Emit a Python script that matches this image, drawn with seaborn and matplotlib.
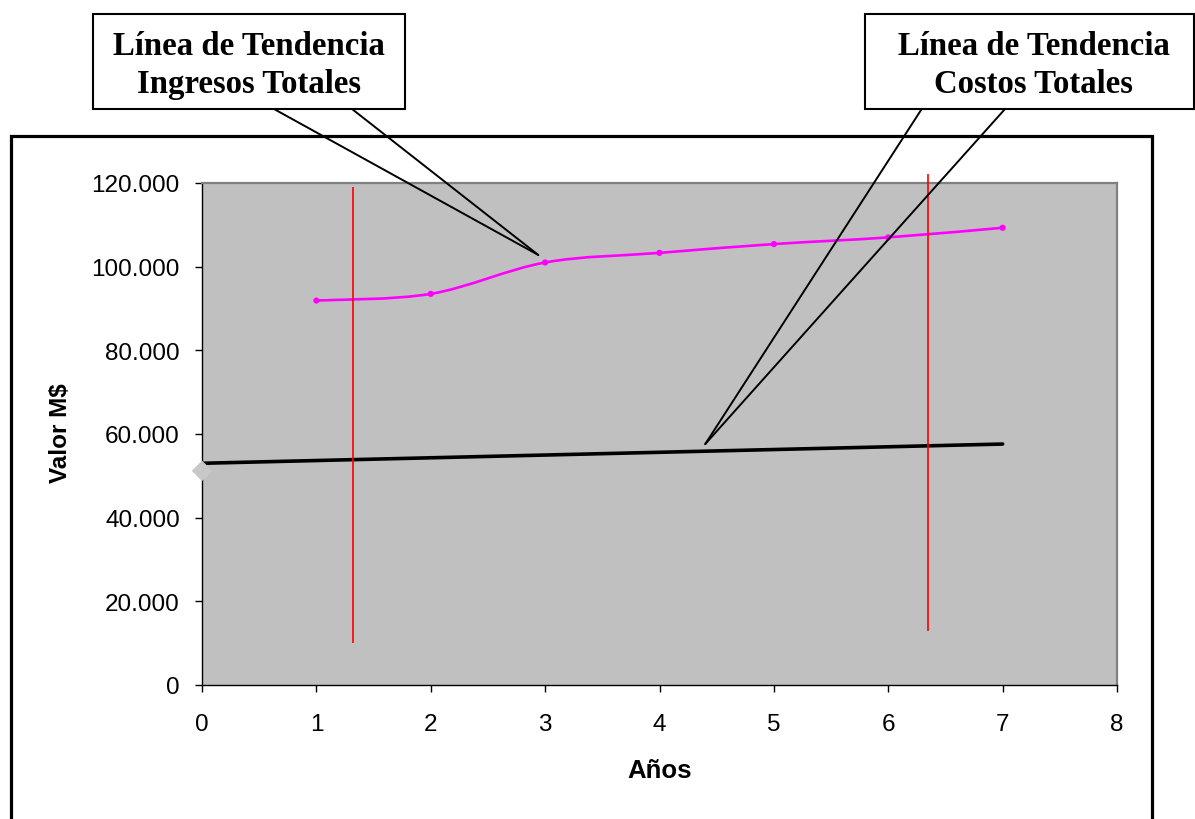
import numpy as np
import pandas as pd
import matplotlib
matplotlib.use("Agg")
import matplotlib.pyplot as plt
from matplotlib.path import Path
from matplotlib.patches import PathPatch, Rectangle, ConnectionPatch
from matplotlib.ticker import FuncFormatter, FixedLocator
import seaborn as sns

# --- data -------------------------------------------------------------
anios = [1, 2, 3, 4, 5, 6, 7]
ingresos = [91900, 93500, 101000, 103300, 105400, 107000, 109300]

costos_x = [0, 7]
costos_tendencia = [53000, 57600]

lineas_x = [1.316, 6.35]
lineas_ymin = [10000, 13000]
lineas_ymax = [119100, 122200]

marca_x = [0]
marca_y = [51200]

x_ticks = [0, 1, 2, 3, 4, 5, 6, 7, 8]
y_ticks = [0, 20000, 40000, 60000, 80000, 100000, 120000]

nota_ingresos = "Línea de Tendencia\nIngresos Totales"
nota_costos = "Línea de Tendencia\nCostos Totales"
punta_ingresos = (2.94, 102800)
punta_costos = (4.40, 57600)

# --- figure -----------------------------------------------------------
sns.set_theme(style="white")
plt.rcParams["font.family"] = ["Liberation Sans", "DejaVu Sans"]

W, H = 1195, 820
fig = plt.figure(figsize=(W / 100, H / 100), dpi=100)
fig.patch.set_facecolor("white")


def fpx(x, y):
    """Pixel position (top-left origin) to figure fraction."""
    return x / W, 1 - y / H


ax = fig.add_axes([202 / W, (H - 686) / H, 915 / W, 502 / H])
ax.set_facecolor("#C0C0C0")

# smoothed revenue curve (cubic Bezier segments through the yearly points)
pts = np.column_stack([anios, ingresos]).astype(float)
ext = np.vstack([pts[0], pts, pts[-1]])
verts = [tuple(pts[0])]
codes = [Path.MOVETO]
for i in range(len(pts) - 1):
    p0, p1, p2, p3 = ext[i], ext[i + 1], ext[i + 2], ext[i + 3]
    c1 = p1 + (p2 - p0) / 6.0
    c2 = p2 - (p3 - p1) / 6.0
    verts += [tuple(c1), tuple(c2), tuple(p2)]
    codes += [Path.CURVE4] * 3
ax.add_patch(PathPatch(Path(verts, codes), facecolor="none",
                       edgecolor="#FF00FF", lw=1.9, zorder=3))

df_ing = pd.DataFrame({"Años": anios, "Ingresos": ingresos})
sns.scatterplot(data=df_ing, x="Años", y="Ingresos", color="#FF00FF",
                s=20, edgecolor="none", ax=ax, zorder=4, legend=False)

# cost trend line
df_cos = pd.DataFrame({"Años": costos_x, "Costos": costos_tendencia})
sns.lineplot(data=df_cos, x="Años", y="Costos", color="black", lw=2.6,
             ax=ax, zorder=3, legend=False)

# vertical red markers
ax.vlines(lineas_x, lineas_ymin, lineas_ymax, colors="#FF0000",
          lw=1.2, zorder=3, clip_on=False)

# small gray marker on the value axis
ax.scatter(marca_x, marca_y, marker="D", s=110, color="#C8C8C8",
           edgecolor="none", zorder=6, clip_on=False)

ax.set_xlim(0, 8)
ax.set_ylim(0, 120000)
ax.xaxis.set_major_locator(FixedLocator(x_ticks))
ax.yaxis.set_major_locator(FixedLocator(y_ticks))
ax.yaxis.set_major_formatter(
    FuncFormatter(lambda v, p: f"{int(v):,}".replace(",", ".")))

for side in ("top", "right"):
    ax.spines[side].set_color("#808080")
    ax.spines[side].set_linewidth(1.6)
for side in ("left", "bottom"):
    ax.spines[side].set_color("black")
    ax.spines[side].set_linewidth(1.0)

ax.tick_params(axis="both", which="major", direction="out", length=5,
               width=1, color="black", labelsize=17.5, labelcolor="black",
               left=True, bottom=True)
ax.tick_params(axis="y", pad=11)
ax.tick_params(axis="x", pad=15)

ax.set_xlabel("Años", fontsize=18.5, fontweight="bold", color="black")
ax.set_ylabel("Valor M$", fontsize=17.5, fontweight="bold", color="black")
ax.xaxis.set_label_coords(0.5, -0.146)
ax.yaxis.set_label_coords(-0.142, 0.504)

# outer chart frame
x0, y0 = fpx(10.7, 137)
x1, _ = fpx(1152, 137)
fig.patches.append(Rectangle((x0, -0.05), x1 - x0, y0 + 0.05,
                             transform=fig.transFigure, facecolor="none",
                             edgecolor="black", lw=2.3, zorder=0))

# callouts
serif = ["Liberation Serif", "DejaVu Serif"]


def callout(left, right, top, bottom, text, starts, tip, dx=0):
    bx0, by0 = fpx(left, bottom)
    bx1, by1 = fpx(right, top)
    fig.patches.append(Rectangle((bx0, by0), bx1 - bx0, by1 - by0,
                                 transform=fig.transFigure,
                                 facecolor="white", edgecolor="black",
                                 lw=1.5, zorder=5))
    cx, cy = fpx((left + right) / 2 + dx, (top + bottom) / 2 + 3)
    fig.text(cx, cy, text, ha="center", va="center", fontsize=23.6,
             fontweight="bold", family=serif, linespacing=1.3,
             color="black", zorder=6)
    for sx in starts:
        con = ConnectionPatch(xyA=fpx(sx, bottom), coordsA=fig.transFigure,
                              xyB=tip, coordsB=ax.transData,
                              color="black", lw=1.4, zorder=7)
        fig.add_artist(con)


callout(93, 405, 15, 110, nota_ingresos, [274, 352], punta_ingresos)
callout(865, 1194, 15, 110, nota_costos, [921.7, 1005], punta_costos, dx=4)

fig.savefig("out.png", dpi=100, facecolor="white")
